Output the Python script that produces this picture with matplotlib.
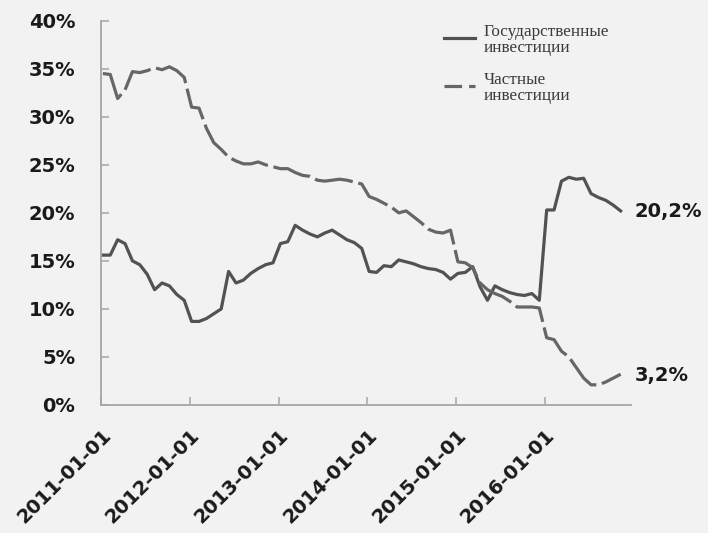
import numpy as np
import matplotlib
matplotlib.use("Agg")
import matplotlib.pyplot as plt
from matplotlib.lines import Line2D
from matplotlib.transforms import ScaledTranslation

# ---- data (monthly, Jan 2011 .. Nov 2016), % ----
tick_labels = ["2011-01-01", "2012-01-01", "2013-01-01",
               "2014-01-01", "2015-01-01", "2016-01-01"]
state_inv = [15.6, 15.6, 17.2, 16.8, 15.0, 14.6, 13.6, 12.0, 12.7, 12.4, 11.5, 10.9,
             8.7, 8.7, 9.0, 9.5, 10.0, 13.9, 12.7, 13.0, 13.7, 14.2, 14.6, 14.8,
             16.8, 17.0, 18.7, 18.2, 17.8, 17.5, 17.9, 18.2, 17.7, 17.2, 16.9, 16.3,
             13.9, 13.8, 14.5, 14.4, 15.1, 14.9, 14.7, 14.4, 14.2, 14.1, 13.8, 13.1,
             13.7, 13.8, 14.4, 12.3, 10.9, 12.4, 12.0, 11.7, 11.5, 11.4, 11.6, 10.9,
             20.3, 20.3, 23.3, 23.7, 23.5, 23.6, 22.0, 21.6, 21.3, 20.8, 20.2]
private_inv = [34.5, 34.4, 31.9, 32.8, 34.7, 34.6, 34.8, 35.1, 34.9, 35.2, 34.8, 34.1,
               31.0, 30.9, 28.8, 27.3, 26.6, 25.8, 25.4, 25.1, 25.1, 25.3, 25.0, 24.8,
               24.6, 24.6, 24.2, 23.9, 23.8, 23.4, 23.3, 23.4, 23.5, 23.4, 23.2, 23.0,
               21.7, 21.4, 21.0, 20.6, 20.0, 20.2, 19.6, 19.0, 18.3, 18.0, 17.9, 18.2,
               14.9, 14.8, 14.3, 12.7, 12.0, 11.6, 11.3, 10.8, 10.2, 10.2, 10.2, 10.1,
               7.0, 6.8, 5.6, 5.0, 3.9, 2.8, 2.1, 2.1, 2.4, 2.8, 3.2]
series_names = ["Государственные\nинвестиции", "Частные\nинвестиции"]
end_labels = ["20,2%", "3,2%"]
y_ticks = [0, 5, 10, 15, 20, 25, 30, 35, 40]

BG = "#f2f2f2"
AXC = "#a6a6a6"
C_SOLID = "#525252"
C_DASH = "#666666"

fig = plt.figure(figsize=(7.08, 5.33), dpi=100, facecolor=BG)
W, H = 708, 533
ax = fig.add_axes([101 / W, 1 - 405 / H, 530 / W, (405 - 20.7) / H], facecolor=BG)

x = np.arange(len(state_inv))
ax.plot(x, state_inv, color=C_SOLID, lw=2.3, solid_joinstyle="round")
ax.plot(x, private_inv, color=C_DASH, lw=2.3, dashes=(12, 1.8))

ax.set_xlim(-0.25, 71.4)
ax.set_ylim(0, 40)
ax.set_yticks(y_ticks)
ax.set_yticklabels([f"{v}%" for v in y_ticks])
ax.set_xticks([12 * k - 0.25 for k in range(len(tick_labels))])
ax.set_xticklabels(tick_labels)

for s in ["top", "right"]:
    ax.spines[s].set_visible(False)
for s in ["left", "bottom"]:
    ax.spines[s].set_color(AXC)
    ax.spines[s].set_linewidth(1.3)

ax.tick_params(axis="both", direction="in", length=6, width=1.1, color=AXC,
               labelcolor="#1a1a1a")
ax.tick_params(axis="y", pad=18.5)
ax.tick_params(axis="x", pad=19.5)
for lab in ax.get_yticklabels():
    lab.set_fontfamily("DejaVu Sans")
    lab.set_fontweight("bold")
    lab.set_fontsize(14)
for lab in ax.get_xticklabels():
    lab.set_fontfamily("DejaVu Sans")
    lab.set_fontweight("bold")
    lab.set_fontsize(14)
    lab.set_rotation(45)
    lab.set_ha("right")
    lab.set_va("center")
    lab.set_rotation_mode("anchor")
    lab.set_transform(lab.get_transform() + ScaledTranslation(0.07, 0, fig.dpi_scale_trans))

# end-value labels
for series, txt in zip([state_inv, private_inv], end_labels):
    ax.annotate(txt, xy=(x[-1], series[-1]), xytext=(14, -1), textcoords="offset pixels",
                ha="left", va="center", fontsize=14, fontweight="bold",
                family="DejaVu Sans", color="#1a1a1a")

# legend (drawn manually to match layout)
fig.add_artist(Line2D([444 / W, 475 / W], [1 - 38 / H, 1 - 38 / H], color=C_SOLID, lw=2.3))
fig.add_artist(Line2D([444 / W, 475 / W], [1 - 86 / H, 1 - 86 / H], color=C_DASH, lw=2.3,
                      dashes=(5.5, 2.2)))
fig.text(484 / W, 1 - 24 / H, series_names[0], ha="left", va="top", fontsize=12.3,
         family="Liberation Serif", color="#3a3a3a", linespacing=1.0)
fig.text(484 / W, 1 - 72 / H, series_names[1], ha="left", va="top", fontsize=12.3,
         family="Liberation Serif", color="#3a3a3a", linespacing=1.0)

fig.savefig("out.png", dpi=100, facecolor=BG)
